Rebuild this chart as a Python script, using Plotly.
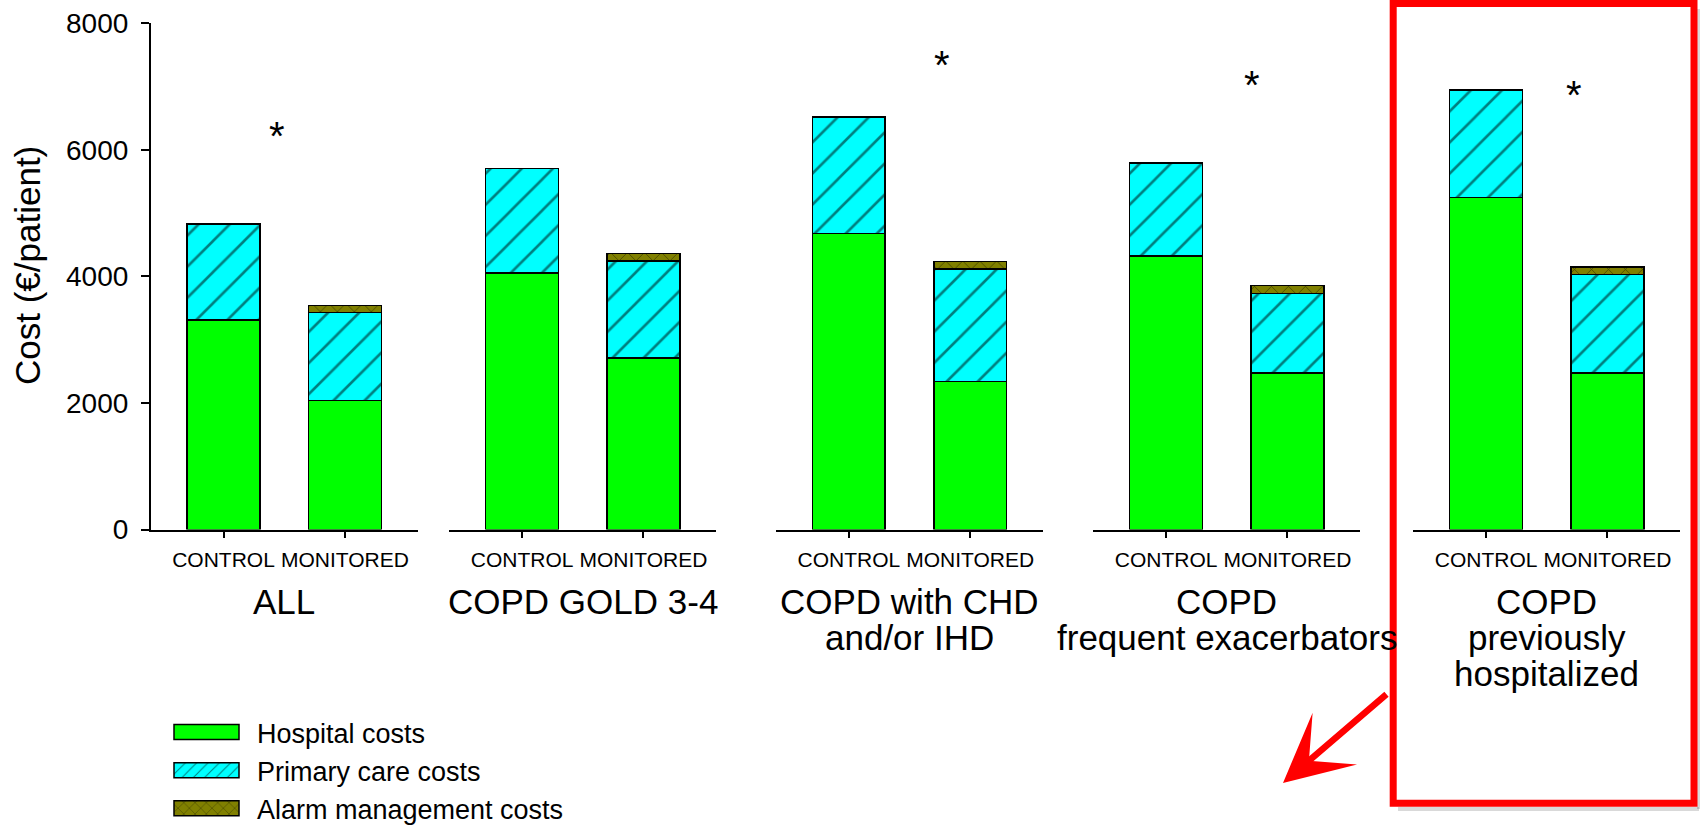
import plotly.graph_objects as go

# ---------------- data ----------------
groups = ["ALL", "COPD GOLD 3-4", "COPD with CHD and/or IHD",
          "COPD frequent exacerbators", "COPD previously hospitalized"]
group_title_lines = [["ALL"], ["COPD GOLD 3-4"], ["COPD with CHD", "and/or IHD"],
                     ["COPD", "frequent exacerbators"], ["COPD", "previously", "hospitalized"]]
arms = ["CONTROL", "MONITORED"]

hospital_control = [3310, 4050, 4680, 4320, 5250]
hospital_monitored = [2035, 2710, 2340, 2470, 2470]
primary_control = [1520, 1655, 1840, 1475, 1695]
primary_monitored = [1395, 1530, 1775, 1260, 1560]
alarm_control = [0, 0, 0, 0, 0]
alarm_monitored = [110, 125, 120, 125, 120]

# significance markers: (group index, x position in category units, y value)
star_group = [0, 2, 3, 4]
star_x = [0.44, 0.77, 0.71, 0.72]
star_y = [6380, 7500, 7190, 7020]

y_ticks = [0, 2000, 4000, 6000, 8000]

# ---------------- styling ----------------
W, H = 1700, 825
FONT = "Liberation Sans, Arial, sans-serif"
panel_left_px = [150.7, 449.3, 776.0, 1093.3, 1413.3]
panel_width_px = 267.0
y_top_px, y_bot_px = 23.3, 529.5

series = [
    ("Hospital costs", hospital_control, hospital_monitored,
     dict(color="#00FF00", line=dict(color="black", width=1.5))),
    ("Primary care costs", primary_control, primary_monitored,
     dict(color="#00FFFF", line=dict(color="black", width=1.5),
          pattern=dict(shape="/", fgcolor="black", bgcolor="#00FFFF", size=22, solidity=0.12))),
    ("Alarm management costs", alarm_control, alarm_monitored,
     dict(color="#808000", line=dict(color="black", width=1.5),
          pattern=dict(shape="x", fgcolor="black", bgcolor="#808000", size=12, solidity=0.12))),
]

fig = go.Figure()
for gi in range(len(groups)):
    xa = "x" if gi == 0 else f"x{gi+1}"
    for name, ctrl, mon, marker in series:
        fig.add_trace(go.Bar(
            x=arms, y=[ctrl[gi], mon[gi]], name=name, marker=marker,
            xaxis=xa, yaxis="y", showlegend=(gi == 0), hoverinfo="y+name",
        ))

layout = dict(
    width=W, height=H, autosize=False,
    margin=dict(l=0, r=0, t=0, b=0, autoexpand=False),
    paper_bgcolor="white", plot_bgcolor="white",
    barmode="stack", bargap=0.4,
    font=dict(family=FONT, color="black"),
    showlegend=True,
    legend=dict(x=167 / W, xanchor="left", y=1 - 708 / H, yanchor="top",
                font=dict(size=27, family=FONT), itemwidth=80,
                traceorder="normal", bgcolor="rgba(0,0,0,0)", tracegroupgap=0),
    yaxis=dict(domain=[1 - y_bot_px / H, 1 - y_top_px / H], range=[0, 8000],
               tickvals=y_ticks, ticks="outside", ticklen=8, tickwidth=1.5,
               tickcolor="black", showline=True, linecolor="black", linewidth=1.5,
               showgrid=False, zeroline=False, anchor="x",
               tickfont=dict(size=28, family=FONT), ticklabelstandoff=7),
)
for gi in range(len(groups)):
    key = "xaxis" if gi == 0 else f"xaxis{gi+1}"
    x0 = panel_left_px[gi] / W
    x1 = (panel_left_px[gi] + panel_width_px) / W
    layout[key] = dict(domain=[x0, x1], range=[-0.6, 1.6], type="category",
                       categoryorder="array", categoryarray=arms,
                       anchor="y", showline=True, linecolor="black", linewidth=2,
                       ticks="outside", ticklen=6, tickwidth=1.5, tickcolor="black",
                       showgrid=False, zeroline=False,
                       tickfont=dict(size=21, family=FONT), ticklabelstandoff=4)
fig.update_layout(**layout)

annotations = []
# y-axis title
annotations.append(dict(text="Cost (€/patient)", x=27 / W, y=1 - 266 / H,
                        xref="paper", yref="paper", textangle=-90, showarrow=False,
                        xanchor="center", yanchor="middle", font=dict(size=35, family=FONT)))
# group titles (one annotation per line)
line_centers_px = [601, 637, 673]
for gi, lines in enumerate(group_title_lines):
    cx = (panel_left_px[gi] + panel_width_px / 2) / W
    for li, txt in enumerate(lines):
        annotations.append(dict(text=txt, x=cx, y=1 - line_centers_px[li] / H,
                                xref="paper", yref="paper", showarrow=False,
                                xanchor="center", yanchor="middle",
                                font=dict(size=35, family=FONT)))
# significance stars
for g, sx, sy in zip(star_group, star_x, star_y):
    xr = "x" if g == 0 else f"x{g+1}"
    annotations.append(dict(text="*", x=sx, y=sy, xref=xr, yref="y", showarrow=False,
                            xanchor="center", yanchor="middle", yshift=-10,
                            font=dict(size=40, family=FONT)))
# red arrow
annotations.append(dict(text="", x=1283 / W, y=1 - 783 / H, xref="paper", yref="paper",
                        ax=105, ay=-90, showarrow=True, arrowhead=3, arrowsize=1.75,
                        arrowwidth=6.5, arrowcolor="#FF0000"))
fig.update_layout(annotations=annotations)

# soft shadow along the bottom and right of the red box
shadow = dict(color="rgba(0,0,0,0.15)", width=4)
fig.add_shape(type="line", xref="paper", yref="paper",
              x0=1398 / W, x1=1699 / W, y0=1 - 809 / H, y1=1 - 809 / H, line=shadow)
fig.add_shape(type="line", xref="paper", yref="paper",
              x0=1699 / W, x1=1699 / W, y0=1 - 809 / H, y1=1 - 9 / H, line=shadow)
# red highlight box
fig.add_shape(type="rect", xref="paper", yref="paper",
              x0=1393.2 / W, x1=1694 / W, y0=1 - 803.3 / H, y1=1 - 3.5 / H,
              line=dict(color="#FF0000", width=7), layer="above")

# page tweaks: no body margin; wide rectangular legend swatches like the original
post = """
document.body.style.margin='0';
document.body.style.overflow='hidden';
var gd = document.getElementById('{plot_id}');
function widenSwatches(){
  var paths = gd.querySelectorAll('g.legendpoints path');
  for (var i = 0; i < paths.length; i++) {
    paths[i].setAttribute('d', 'M27,7.5H-38V-7.5H27Z');
  }
}
widenSwatches();
if (gd.on) { gd.on('plotly_afterplot', widenSwatches); }
setTimeout(widenSwatches, 0);
setTimeout(widenSwatches, 200);
"""
fig.write_html("out.html", config={"displayModeBar": False}, post_script=post)
